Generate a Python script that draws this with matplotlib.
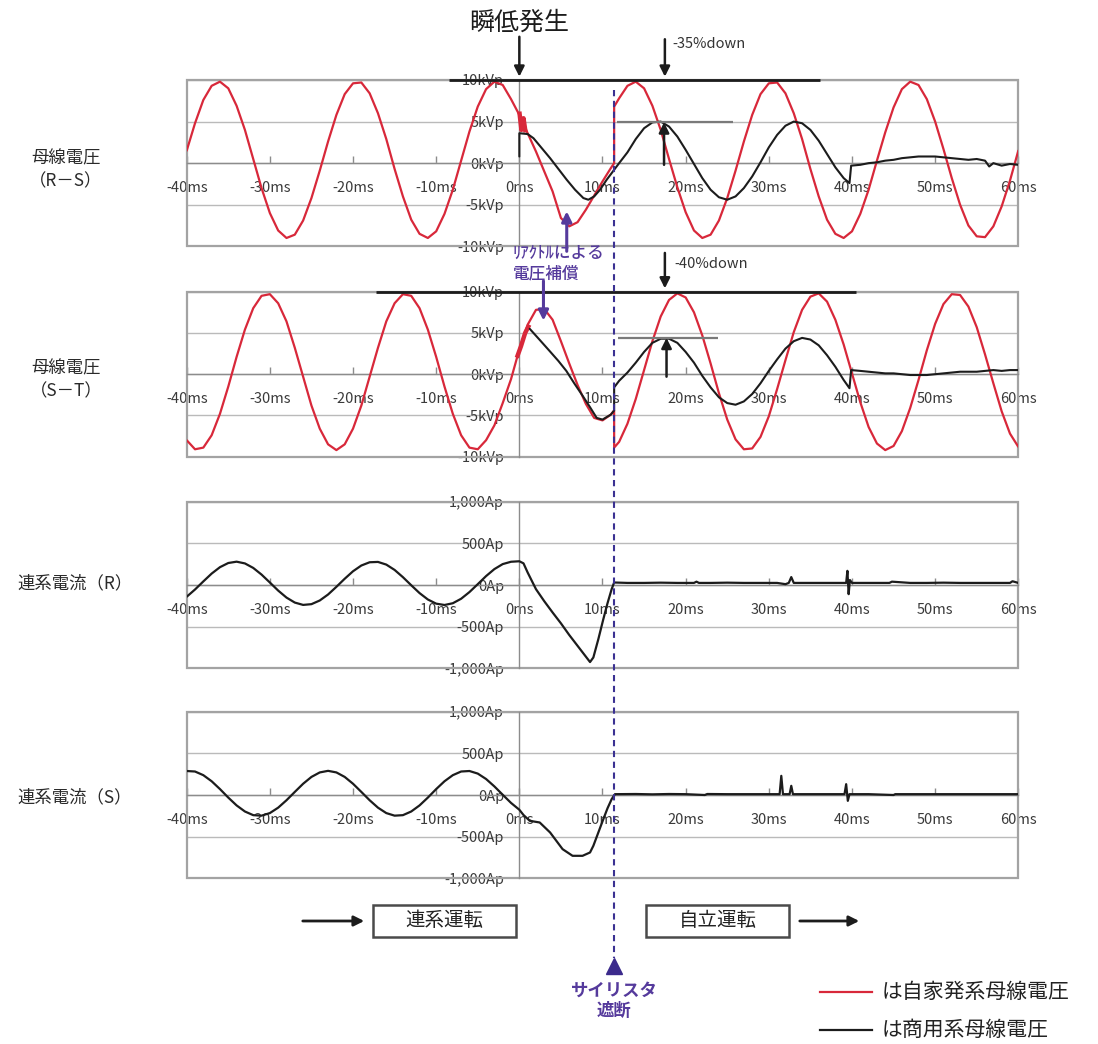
import matplotlib.pyplot as plt
from matplotlib.lines import Line2D
from matplotlib.patches import Rectangle, FancyArrowPatch
from matplotlib.transforms import blended_transform_factory

plt.rcParams['font.family'] = ['Noto Sans CJK JP', 'DejaVu Sans']

W, H = 1098, 1044
RED = '#d8283a'
INK = '#1c1c1c'
PURPLE = '#553a9c'
GRID = '#bababa'
FRAME = '#a3a3a3'
LABEL = '#3a3a3a'

# ---- axes / ticks ----
XTICKS = [-40, -30, -20, -10, 0, 10, 20, 30, 40, 50, 60]
XLABELS = ['-40ms', '-30ms', '-20ms', '-10ms', '0ms', '10ms', '20ms', '30ms', '40ms', '50ms', '60ms']
V_TICKS = [-10, -5, 0, 5, 10]
V_LABELS = ['-10kVp', '-5kVp', '0kVp', '5kVp', '10kVp']
I_TICKS = [-1000, -500, 0, 500, 1000]
I_LABELS = ['-1,000Ap', '-500Ap', '0Ap', '500Ap', '1,000Ap']

# ---- time bases (ms) ----
T_PRE = list(range(-40, 1))
T_SAG = [1, 2, 3, 4, 5, 6, 7, 8, 9, 10, 11, 11.4]
T_POST = [11.4] + list(range(12, 61))
T_CUT = 11.4          # thyristor switch opens

# ---- bus voltage R-S (kVp) ----
RS_SELF_PRE = [1.5, 4.8, 7.6, 9.3, 9.8, 9.0, 6.9, 4.0, 0.5, -3.0, -6.0,
               -8.1, -9.0, -8.6, -6.9, -4.2, -0.9, 2.6, 5.8, 8.3, 9.6,
               9.7, 8.4, 6.0, 2.9, -0.7, -4.0, -6.8, -8.5, -9.0, -8.2,
               -6.1, -3.2, 0.3, 3.8, 6.8, 8.9, 9.8, 9.4, 7.7, 5.8]
RS_SELF_SAG = [3.6, 1.4, -1.0, -3.4, -6.6, -7.6, -7.1, -5.6, -3.9, -2.2, -0.6, 0.0]
RS_SELF_POST = [6.8, 7.8, 9.3, 9.8, 9.0, 6.9, 4.0, 0.5, -2.9, -5.9,
                -8.1, -9.0, -8.6, -6.9, -4.2, -0.9, 2.6, 5.8, 8.3, 9.6,
                9.7, 8.4, 6.0, 2.9, -0.7, -4.0, -6.8, -8.5, -9.0, -8.2,
                -6.1, -3.2, 0.3, 3.7, 6.7, 8.9, 9.8, 9.4, 7.7, 5.0,
                1.7, -1.8, -5.0, -7.5, -8.8, -8.9, -7.6, -5.2, -2.1, 1.5]
RS_BURST_T = [0.0, 0.25, 0.5, 0.75]
RS_BURST = [6.2, 4.0, 5.4, 3.7]

RS_UTIL_T = ([0, 0, 1.0, 1.7, 2.7, 3.7, 4.7, 5.7, 6.7, 7.7, 8.3, 9.0, 9.7, 10.5, 11.4]
             + list(range(12, 40)) + [39.7]
             + [39.9, 41, 42, 43, 44, 45, 46, 47, 48, 49, 50, 51, 52, 53, 54, 55, 56,
                56.5, 57, 58, 59, 60])
RS_UTIL = ([0.8, 3.6, 3.5, 3.0, 1.8, 0.6, -0.7, -2.0, -3.2, -4.2, -4.4, -4.0, -3.2, -2.0, -0.8]
           + [0.0, 1.3, 2.9, 4.2, 4.9, 5.0, 4.4, 3.2, 1.6, -0.1, -1.8, -3.2, -4.1, -4.4,
              -4.0, -3.0, -1.6, 0.1, 1.9, 3.4, 4.5, 5.0, 4.8, 4.0, 2.7, 1.1, -0.5, -1.8, -2.4]
           + [-0.3, -0.2, 0.0, 0.1, 0.3, 0.4, 0.6, 0.7, 0.8, 0.8, 0.8, 0.7, 0.6, 0.5, 0.4,
              0.5, 0.3, -0.4, 0.0, -0.3, -0.1, -0.2])

# ---- bus voltage S-T (kVp) ----
ST_SELF_PRE = [-8.0, -9.1, -8.9, -7.4, -4.8, -1.5, 2.1, 5.4, 8.0, 9.5, 9.7,
               8.6, 6.4, 3.2, -0.3, -3.8, -6.6, -8.5, -9.2, -8.5, -6.6,
               -3.8, -0.3, 3.2, 6.4, 8.6, 9.7, 9.5, 8.0, 5.4, 2.1,
               -1.5, -4.8, -7.4, -8.9, -9.1, -8.0, -6.2, -3.5, -0.6, 3.0]
ST_SELF_SAG = [6.0, 7.8, 7.9, 6.6, 4.0, 1.3, -1.3, -3.6, -5.3, -5.6, -4.9, -4.4]
ST_SELF_POST = [-8.9, -8.2, -6.0, -3.0, 0.5, 4.0, 7.0, 9.0, 9.8, 9.3,
                7.5, 4.7, 1.3, -2.3, -5.5, -7.9, -9.1, -9.0, -7.6, -5.1,
                -1.8, 1.7, 5.1, 7.8, 9.4, 9.8, 8.8, 6.6, 3.6, 0.1,
                -3.4, -6.4, -8.4, -9.2, -8.7, -6.9, -4.1, -0.7, 2.9, 6.1,
                8.5, 9.7, 9.6, 8.2, 5.7, 2.4, -1.1, -4.5, -7.2, -8.8]
ST_BURST_T = [-0.3, 0.2, 0.7, 1.2]
ST_BURST = [2.0, 3.4, 5.0, 6.0]

ST_UTIL_T = ([1.25, 2.5, 3.65, 4.7, 5.65, 6.6, 7.6, 8.5, 9.3, 10.0, 11.0, 11.4]
             + [11.4] + list(range(12, 40)) + [39.7]
             + [39.9] + list(range(41, 61)))
ST_UTIL = ([5.5, 4.1, 2.8, 1.6, 0.4, -1.1, -2.6, -4.0, -5.3, -5.5, -4.9, -4.4]
           + [-1.6, -0.8, 0.2, 1.4, 2.7, 3.8, 4.3, 4.3, 3.8, 2.7, 1.4, -0.2, -1.6, -2.8,
              -3.5, -3.7, -3.3, -2.4, -1.1, 0.4, 1.8, 3.1, 4.0, 4.4, 4.2, 3.5, 2.3, 0.9,
              -0.7, -1.7]
           + [0.5, 0.4, 0.3, 0.2, 0.1, 0.1, 0.0, -0.1, -0.1, -0.1, 0.0, 0.1, 0.2, 0.3,
              0.3, 0.3, 0.4, 0.5, 0.4, 0.5, 0.5])

# ---- tie-line current R (Ap) ----
IR_PRE = [-141, -54, 43, 137, 214, 264, 280, 259, 205, 125, 30,
          -67, -151, -211, -239, -230, -186, -114, -22, 75, 165,
          234, 273, 277, 245, 181, 94, -3, -97, -174, -224,
          -240, -219, -165, -85, 10, 107, 191, 251, 279, 285]
IR_SAG_T = [0.5, 1.0, 2.0, 3.0, 4.0, 5.0, 6.0, 7.0, 8.0, 8.5, 8.9, 9.5, 10.1, 10.6, 11.1, 11.4]
IR_SAG = [260, 150, -50, -195, -330, -460, -600, -730, -860, -925, -870, -650, -410, -220, -50, 30]
IR_POST_T = [13, 15, 17, 19, 21, 21.3, 21.6, 23, 25, 27, 29, 31, 32.0, 32.4, 32.7, 33.0,
             35, 37, 39.3, 39.45, 39.6, 39.75, 40.0, 42, 44.5, 44.8, 47, 49, 51, 53, 55,
             57, 59.0, 59.3, 60]
IR_POST = [25, 25, 28, 25, 25, 40, 25, 25, 28, 25, 25, 25, 10, 25, 95, 25,
           25, 25, 25, 170, -110, 60, 25, 25, 25, 40, 25, 25, 28, 25, 25,
           25, 25, 45, 25]

# ---- tie-line current S (Ap) ----
IS_PRE = [288, 282, 238, 165, 71, -31, -125, -198, -242, -248, -217,
          -152, -63, 37, 135, 217, 271, 290, 271, 217, 135,
          37, -63, -152, -217, -248, -242, -198, -125, -31, 71,
          165, 238, 282, 288, 257, 192, 103, 3, -95, -177]
IS_SAG_T = [0.5, 1.25, 2.45, 3.7, 5.2, 6.4, 7.6, 8.5, 8.9, 9.5, 10.1, 10.6, 11.1, 11.5]
IS_SAG = [-240, -310, -330, -450, -650, -730, -730, -690, -610, -450, -290, -160, -50, 10]
IS_POST_T = [14, 16, 18, 20, 22.3, 22.6, 25, 28, 31.3, 31.5, 31.7, 31.9, 32.5, 32.7, 32.9,
             35, 38, 39.1, 39.3, 39.5, 39.7, 42, 45.0, 45.2, 48, 51, 54, 57, 60]
IS_POST = [12, 8, 12, 10, 0, 12, 10, 10, 10, 230, 10, 10, 10, 110, 10,
           10, 10, 10, 130, -70, 10, 10, 0, 10, 10, 10, 10, 10, 10]

# ---- reference levels for the annotations ----
NOMINAL_PEAK = 10
RS_SAG_PEAK = 4.9
ST_SAG_PEAK = 4.4

LEFT, RIGHT = 186.7, 1018.3

fig = plt.figure(figsize=(W / 100, H / 100), dpi=100)


def add_panel(top, bottom, ylim, yticks, ylabels):
    ax = fig.add_axes([LEFT / W, 1 - bottom / H, (RIGHT - LEFT) / W, (bottom - top) / H])
    ax.set_xlim(-40, 60)
    ax.set_ylim(*ylim)
    ax.set_axisbelow(True)
    ax.patch.set_visible(False)
    for side in ('top', 'right'):
        ax.spines[side].set_visible(False)
    for side in ('left', 'bottom'):
        ax.spines[side].set_position(('data', 0))
        ax.spines[side].set_color('#8c8c8c')
        ax.spines[side].set_linewidth(1.0)
        ax.spines[side].set_zorder(1)
    ax.add_patch(Rectangle((0, 0), 1, 1, transform=ax.transAxes, fill=False,
                           ec=FRAME, lw=1.6, clip_on=False, zorder=1))
    ax.set_xticks(XTICKS, XLABELS)
    ax.set_yticks(yticks, ylabels)
    ax.tick_params(axis='x', direction='in', length=5, width=1, color='#8c8c8c',
                   pad=13, labelsize=10.5, labelcolor=LABEL)
    ax.tick_params(axis='y', length=0, pad=11, labelsize=10.5, labelcolor=LABEL)
    ax.yaxis.grid(True, color=GRID, lw=1.0)
    return ax


ax1 = add_panel(80, 246.3, (-10, 10), V_TICKS, V_LABELS)
ax2 = add_panel(291.7, 456.7, (-10, 10), V_TICKS, V_LABELS)
ax3 = add_panel(501.7, 668.3, (-1000, 1000), I_TICKS, I_LABELS)
ax4 = add_panel(711.7, 878.3, (-1000, 1000), I_TICKS, I_LABELS)

line_kw = dict(solid_joinstyle='round', solid_capstyle='round')

# voltages: red = in-house generator bus, black = utility bus
ax1.plot(T_PRE + T_SAG + T_POST, RS_SELF_PRE + RS_SELF_SAG + RS_SELF_POST,
         color=RED, lw=1.6, **line_kw)
ax1.plot(RS_BURST_T, RS_BURST, color=RED, lw=3.2, solid_capstyle='butt')
ax1.plot(RS_UTIL_T, RS_UTIL, color=INK, lw=1.5, **line_kw)

ax2.plot(T_PRE + T_SAG + T_POST, ST_SELF_PRE + ST_SELF_SAG + ST_SELF_POST,
         color=RED, lw=1.6, **line_kw)
ax2.plot(ST_BURST_T, ST_BURST, color=RED, lw=3.2, solid_capstyle='butt')
ax2.plot(ST_UTIL_T, ST_UTIL, color=INK, lw=1.5, **line_kw)

# tie-line currents
ax3.plot(T_PRE + IR_SAG_T + IR_POST_T, IR_PRE + IR_SAG + IR_POST, color=INK, lw=1.6, **line_kw)
ax4.plot(T_PRE + IS_SAG_T + IS_POST_T, IS_PRE + IS_SAG + IS_POST, color=INK, lw=1.6, **line_kw)

arrow_k = dict(arrowstyle='-|>', color=INK, lw=1.8, mutation_scale=15, shrinkA=0, shrinkB=0)
arrow_p = dict(arrowstyle='-|>', color=PURPLE, lw=2.2, mutation_scale=15, shrinkA=0, shrinkB=0)

# ---- R-S annotations ----
ax1.hlines(NOMINAL_PEAK, -8.4, 36.2, color=INK, lw=2.0, clip_on=False, zorder=4)
ax1.hlines(RS_SAG_PEAK, 11.7, 25.7, color='#7a7a7a', lw=1.6, zorder=4)
ax1.text(0, 16.9, '瞬低発生', ha='center', va='center', fontsize=18, color=INK)
ax1.annotate('', xy=(0, 10.4), xytext=(0, 15.2), arrowprops=arrow_k, annotation_clip=False)
ax1.annotate('', xy=(17.5, 10.4), xytext=(17.5, 14.9), arrowprops=arrow_k, annotation_clip=False)
ax1.text(18.4, 14.3, '-35%down', ha='left', va='center', fontsize=10.5, color='#333333')
ax1.annotate('', xy=(17.4, RS_SAG_PEAK), xytext=(17.4, -0.2), arrowprops=arrow_k, zorder=5)
ax1.annotate('', xy=(5.7, -5.8), xytext=(5.7, -10.6), arrowprops=arrow_p,
             annotation_clip=False, zorder=5)

# ---- S-T annotations ----
ax2.hlines(NOMINAL_PEAK, -17.2, 40.5, color=INK, lw=2.0, clip_on=False, zorder=4)
ax2.hlines(ST_SAG_PEAK, 11.9, 23.9, color='#7a7a7a', lw=1.6, zorder=4)
ax2.annotate('', xy=(17.5, 10.4), xytext=(17.5, 14.7), arrowprops=arrow_k, annotation_clip=False)
ax2.text(18.7, 13.4, '-40%down', ha='left', va='center', fontsize=10.5, color='#333333')
ax2.annotate('', xy=(17.7, ST_SAG_PEAK), xytext=(17.7, -0.3), arrowprops=arrow_k, zorder=5)
ax2.annotate('', xy=(2.9, 6.5), xytext=(2.9, 11.3), arrowprops=arrow_p,
             annotation_clip=False, zorder=5)

fig.text(513 / W, 1 - 263.5 / H, 'ﾘｱｸﾄﾙによる\n電圧補償', ha='left', va='center',
         fontsize=12, color=PURPLE, fontweight='medium', linespacing=1.2)

# ---- row titles ----
for label, xc, yc in [('母線電圧\n（R－S）', 66, 170), ('母線電圧\n（S－T）', 66, 380),
                      ('連系電流（R）', 75, 583), ('連系電流（S）', 75, 797)]:
    fig.text(xc / W, 1 - yc / H, label, ha='center', va='center', fontsize=12.5,
             color='#2a2a2a', linespacing=1.3)

# ---- thyristor trip marker ----
cut = blended_transform_factory(ax1.transData, fig.transFigure)
fig.add_artist(Line2D([T_CUT, T_CUT], [1 - 90 / H, 1 - 958 / H], transform=cut,
                      color='#3b3192', lw=1.5, ls=(0, (3, 2.2)), zorder=6))
fig.add_artist(Line2D([T_CUT], [1 - 966 / H], transform=cut, marker='^', ms=12,
                      color='#3b2a8c', ls='none', zorder=6))
fig.text(T_CUT, 1 - 1001 / H, 'サイリスタ\n遮断', transform=cut, ha='center', va='center',
         fontsize=12.5, color=PURPLE, fontweight='bold', linespacing=1.2)

# ---- operation mode boxes ----
for x0, text in [(373, '連系運転'), (646, '自立運転')]:
    fig.add_artist(Rectangle((x0 / W, 1 - 937 / H), 143 / W, 32 / H, transform=fig.transFigure,
                             fill=False, ec='#4a4a4a', lw=1.8))
    fig.text((x0 + 71.5) / W, 1 - 921 / H, text, ha='center', va='center', fontsize=14,
             color='#222222')
for x0, x1 in [(300, 367), (797, 862)]:
    fig.add_artist(FancyArrowPatch((x0 / W, 1 - 921 / H), (x1 / W, 1 - 921 / H),
                                   transform=fig.transFigure, arrowstyle='-|>',
                                   mutation_scale=15, color=INK, lw=2.0))

# ---- legend ----
for y, color, text in [(992, RED, 'は自家発系母線電圧'), (1030, INK, 'は商用系母線電圧')]:
    fig.add_artist(Line2D([820 / W, 872 / W], [1 - y / H, 1 - y / H], color=color, lw=1.6))
    fig.text(882 / W, 1 - y / H, text, ha='left', va='center', fontsize=15, color='#222222')

fig.savefig('out.png', dpi=100)
